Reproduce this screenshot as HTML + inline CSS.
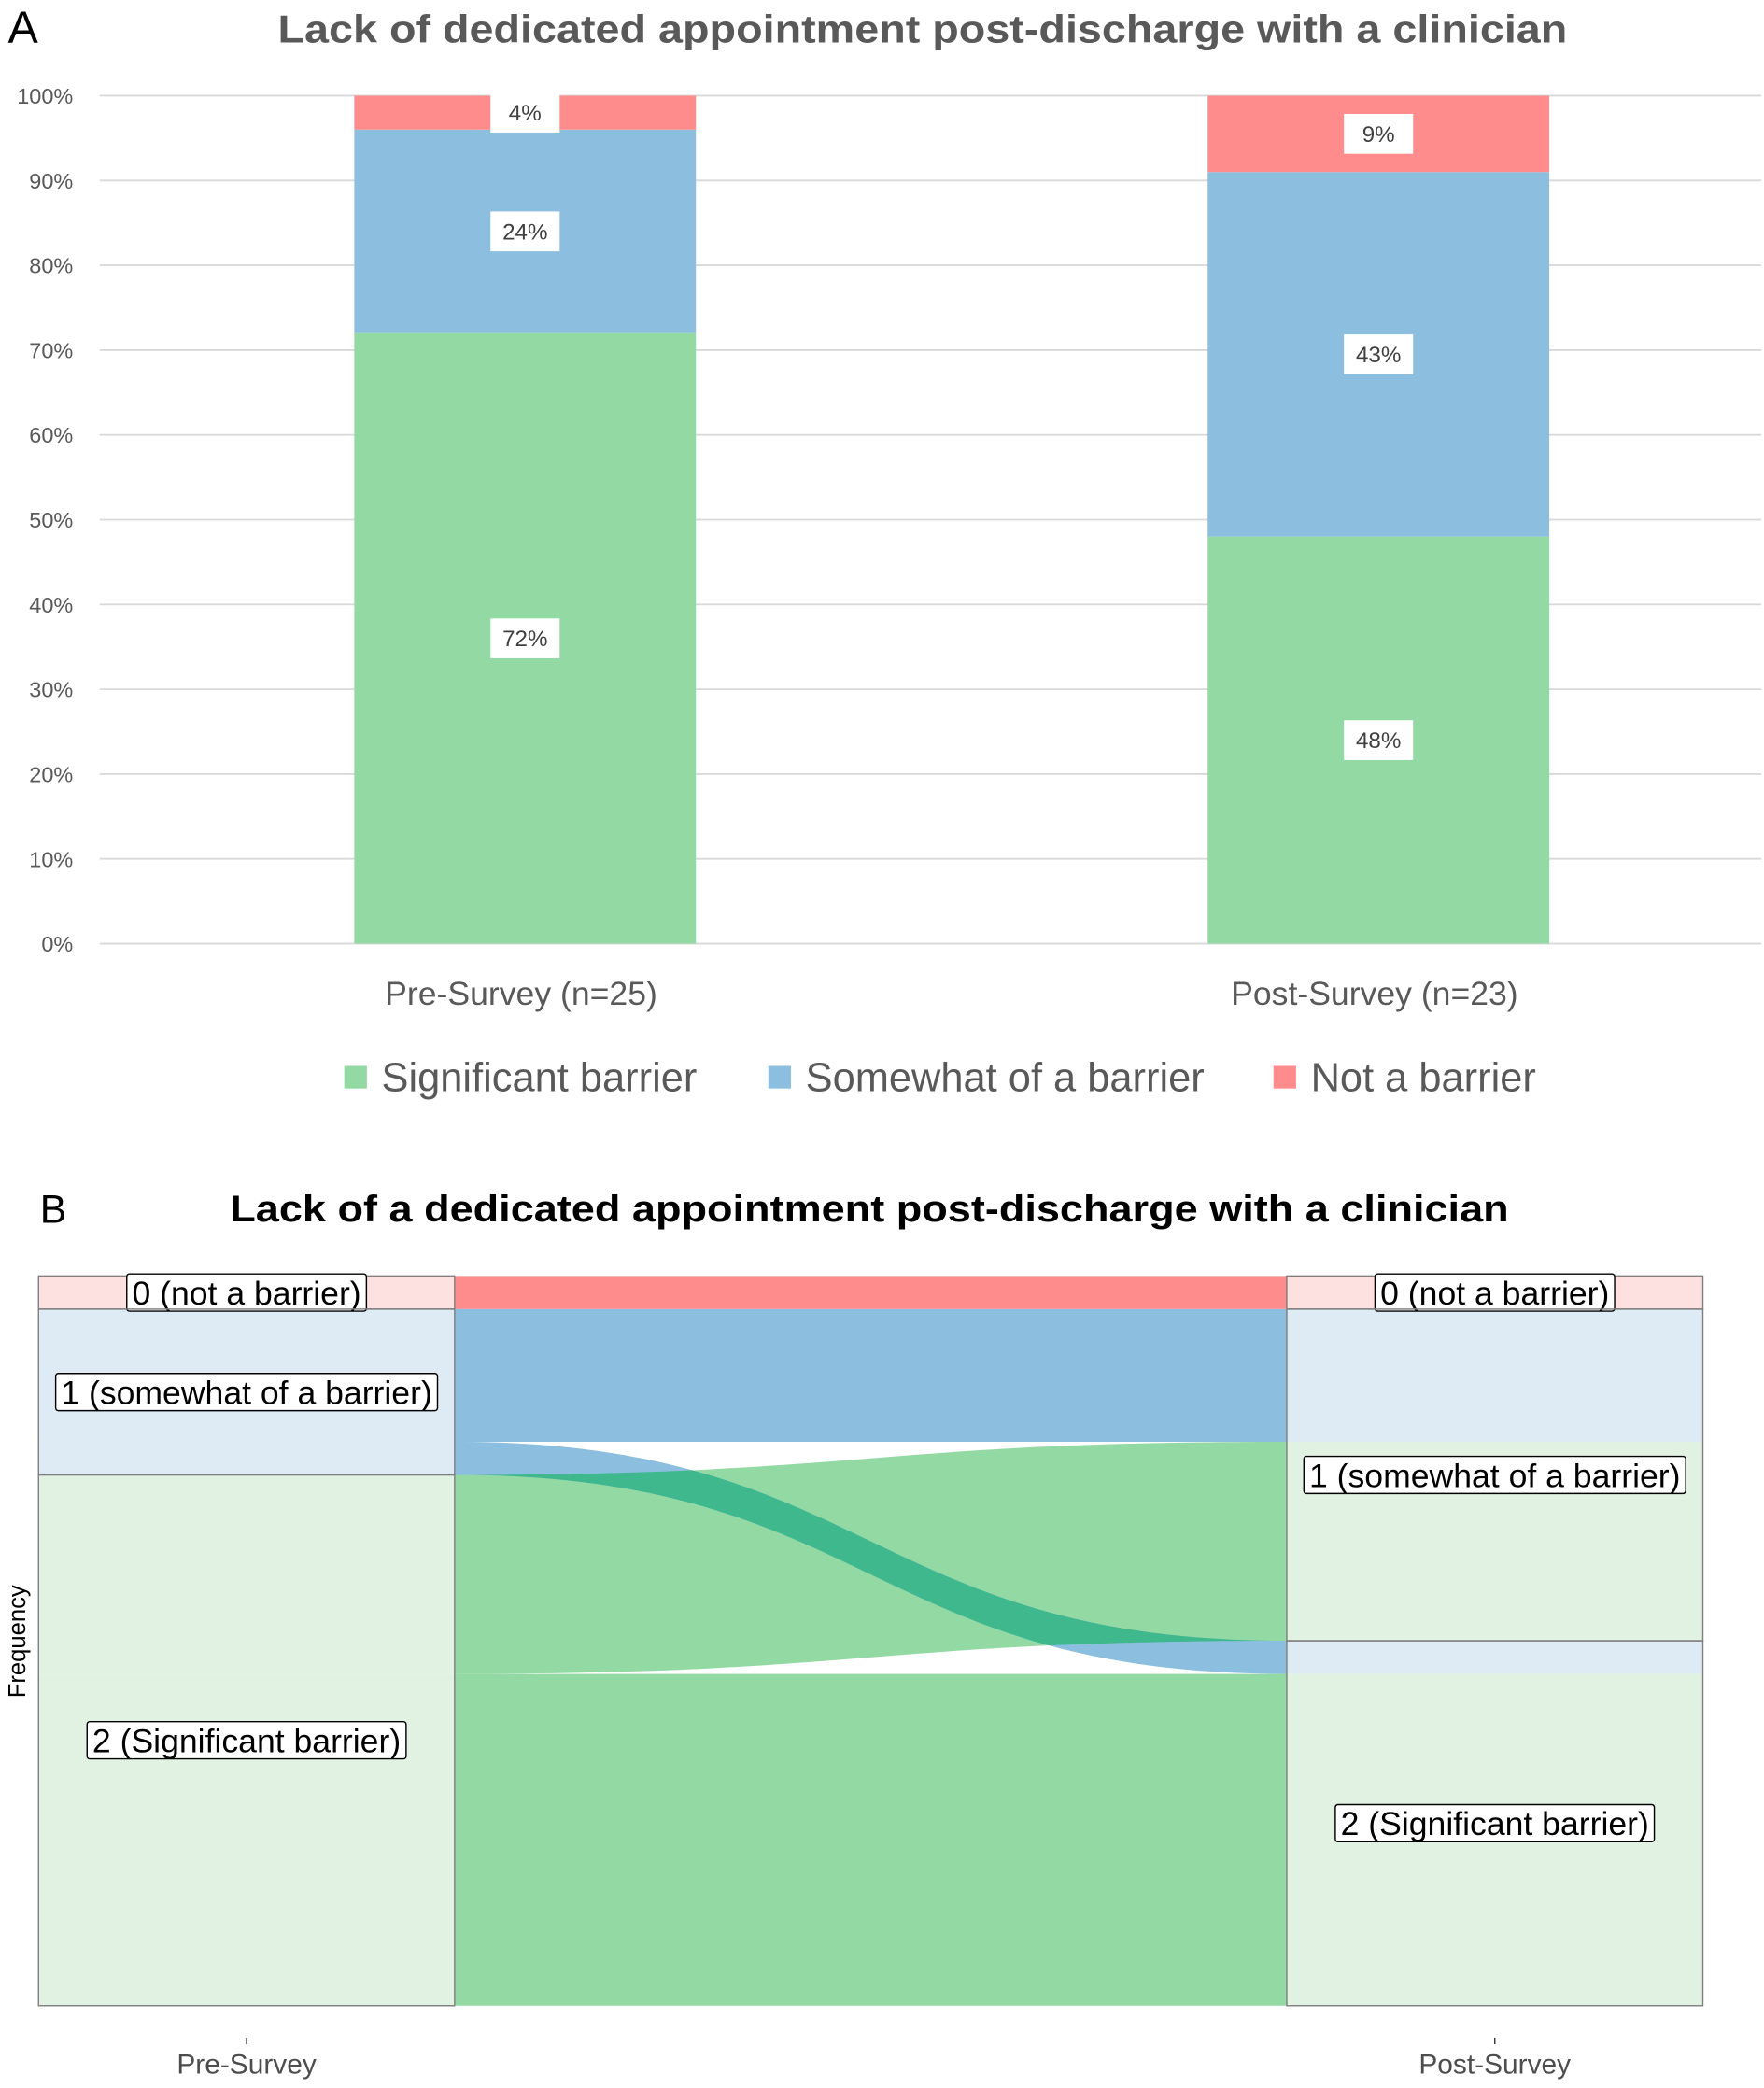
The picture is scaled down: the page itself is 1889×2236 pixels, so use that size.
<!DOCTYPE html>
<html><head><meta charset="utf-8"><style>
html,body{margin:0;padding:0;background:#fff}
svg{display:block}
</style></head><body>
<svg id="root" width="1889" height="2236" viewBox="0 0 1327 1571" preserveAspectRatio="none" xmlns="http://www.w3.org/2000/svg" font-family="Liberation Sans, sans-serif">
<g id="chartA">
<text x="6" y="32" font-size="34" fill="#000">A</text>
<text x="694" y="32" font-size="29" font-weight="bold" fill="#595959" text-anchor="middle" textLength="970" lengthAdjust="spacingAndGlyphs">Lack of dedicated appointment post-discharge with a clinician</text>
</g>
<g id="chartB">
<text x="30" y="920" font-size="30" fill="#000">B</text>
<text x="654" y="919" font-size="28" font-weight="bold" fill="#000" text-anchor="middle" textLength="962" lengthAdjust="spacingAndGlyphs">Lack of a dedicated appointment post-discharge with a clinician</text>
<text transform="translate(19,1235) rotate(-90)" font-size="18" text-anchor="middle" fill="#000">Frequency</text>
</g>
</svg>
<script>
const NS='http://www.w3.org/2000/svg';
// ---- Chart A data ----
const categoriesA=['Pre-Survey (n=25)','Post-Survey (n=23)'];
const significantA=[72,48];
const somewhatA=[24,43];
const notA=[4,9];
const ticksA=[0,10,20,30,40,50,60,70,80,90,100];
const seriesNamesA=['Significant barrier','Somewhat of a barrier','Not a barrier'];
// ---- Chart B data ----
const axesB=['Pre-Survey','Post-Survey'];
const levelsB=['0 (not a barrier)','1 (somewhat of a barrier)','2 (Significant barrier)'];
const flowFromB=[0,1,1,2,2];
const flowToB=[0,1,2,1,2];
const flowCountB=[1,4,1,6,10];

function mk(parent,tag,attrs){const e=document.createElementNS(NS,tag);for(const k in attrs)e.setAttribute(k,attrs[k]);parent.appendChild(e);return e;}

// ---- Chart A ----
(function(){
const g=document.getElementById('chartA');
const y0=710,y1=72,xl=75,xr=1325;
const yS=v=>y0-(v/100)*(y0-y1);
const centers=[395,1037],bw=257;
const xS=i=>centers[i];
ticksA.forEach(t=>{
 const l=mk(g,'line',{x1:xl,x2:xr,y1:yS(t),y2:yS(t),stroke:'#d9d9d9','stroke-width':1.3});
 
 
 const tx=mk(g,'text',{x:55,y:yS(t)+6,'font-size':16.5,fill:'#595959','text-anchor':'end'});
 tx.textContent=t+'%';
 
 
});
const cols=['#93d9a4','#8cbfdf','#ff8c8c'];
const series=[significantA,somewhatA,notA];
categoriesA.forEach((c,i)=>{
 let base=0;
 series.forEach((s,k)=>{
  const v=s[i];
  const top=Math.min(100,base+v);
  const r=mk(g,'rect',{x:xS(i)-bw/2,y:yS(top),width:bw,height:yS(base)-yS(top),fill:cols[k]});
  
  
  const cy=(yS(base)+yS(top))/2;
  const bx=mk(g,'rect',{x:xS(i)-26,y:cy-15,width:52,height:30,fill:'#fff'});
  
  
  const t=mk(g,'text',{x:xS(i),y:cy+6,'font-size':17,fill:'#404040','text-anchor':'middle'});
  t.textContent=v+'%';
  
  
  base+=v;
 });
 const ct=mk(g,'text',{x:xS(i)-3,y:756,'font-size':25,fill:'#595959','text-anchor':'middle'});
 ct.textContent=c;
 
 
});
const lx=[259,578,958];
seriesNamesA.forEach((n,k)=>{
 const r=mk(g,'rect',{x:lx[k],y:802,width:17,height:17,fill:cols[k]});
 
 
 const t=mk(g,'text',{x:lx[k]+28,y:821,'font-size':30.5,fill:'#595959'});
 t.textContent=n;
 
 
});
})();

// ---- Chart B ----
(function(){
const g=document.getElementById('chartB');
const top=960,bot=1509;
const total=flowCountB.reduce((a,b)=>a+b,0);
const u=(bot-top)/total;
const colX=[[29,342],[968,1281]];
const dark=['#ff8c8c','#8cbfdf','#93d9a4'];
const light=['#fde0e0','#deebf5','#e1f2e3'];
const n=flowCountB.length;
const strat=[[],[]];
[flowFromB,flowToB].forEach((arr,a)=>{
 let y=top;
 levelsB.forEach((l,c)=>{
  let cnt=0;arr.forEach((v,i)=>{if(v===c)cnt+=flowCountB[i];});
  strat[a][c]=[y,y+cnt*u];y+=cnt*u;
 });
});
const yL=[],yR=[];
levelsB.forEach((l,c)=>{
 let y=strat[0][c][0];
 const idx=[...Array(n).keys()].filter(i=>flowFromB[i]===c).sort((a,b)=>flowToB[a]-flowToB[b]);
 idx.forEach(i=>{yL[i]=y;y+=flowCountB[i]*u;});
 y=strat[1][c][0];
 const idx2=[...Array(n).keys()].filter(i=>flowToB[i]===c).sort((a,b)=>flowFromB[a]-flowFromB[b]);
 idx2.forEach(i=>{yR[i]=y;y+=flowCountB[i]*u;});
});
for(let i=0;i<n;i++){
 const h=flowCountB[i]*u;
 const a=mk(g,'rect',{x:colX[0][0],y:yL[i],width:colX[0][1]-colX[0][0],height:h,fill:light[flowFromB[i]]});
 
 
 const b=mk(g,'rect',{x:colX[1][0],y:yR[i],width:colX[1][1]-colX[1][0],height:h,fill:light[flowFromB[i]]});
 
 
}
const x0=colX[0][1],x1=colX[1][0],xm=(x0+x1)/2;
const pathD=i=>{const h=flowCountB[i]*u;return `M${x0},${yL[i]} C${xm},${yL[i]} ${xm},${yR[i]} ${x1},${yR[i]} L${x1},${yR[i]+h} C${xm},${yR[i]+h} ${xm},${yL[i]+h} ${x0},${yL[i]+h} Z`;};
const defs=mk(g,'defs',{});
const clip=mk(defs,'clipPath',{id:'greenclip'});
for(let i=0;i<n;i++){ if(flowFromB[i]===2) mk(clip,'path',{d:pathD(i)}); }
const cross=[];
for(let i=0;i<n;i++){
 if(flowFromB[i]!==flowToB[i]&&flowFromB[i]!==2){cross.push(i);continue;}
 const p=mk(g,'path',{d:pathD(i),fill:dark[flowFromB[i]]});
 
 
}
cross.forEach(i=>{
 const p=mk(g,'path',{d:pathD(i),fill:dark[flowFromB[i]]});
 
 
 const o=mk(g,'path',{d:pathD(i),fill:'#40b88e','clip-path':'url(#greenclip)'});
 
 
});
[0,1].forEach(a=>{
 levelsB.forEach((l,c)=>{
  const [ya,yb]=strat[a][c];
  const r=mk(g,'rect',{x:colX[a][0],y:ya,width:colX[a][1]-colX[a][0],height:yb-ya,fill:'none',stroke:'#7f7f7f','stroke-width':1});
  
  
  const cx=(colX[a][0]+colX[a][1])/2,cy=(ya+yb)/2;
  const t=mk(g,'text',{x:cx,y:cy+9,'font-size':25,fill:'#000','text-anchor':'middle'});
  t.textContent=l;
  
  
  const w=t.getComputedTextLength()+8;
  const bx=mk(g,'rect',{x:cx-w/2,y:cy-14,width:w,height:28,fill:'#fff',stroke:'#000','stroke-width':1,rx:2});
  
  
  g.appendChild(t);
 });
 const cx=(colX[a][0]+colX[a][1])/2;
 const tk=mk(g,'line',{x1:cx,x2:cx,y1:1533,y2:1538,stroke:'#333','stroke-width':1});
 
 
 const t=mk(g,'text',{x:cx,y:1560,'font-size':21,fill:'#4d4d4d','text-anchor':'middle'});
 t.textContent=axesB[a];
 
 
});
})();
</script>
</body></html>
